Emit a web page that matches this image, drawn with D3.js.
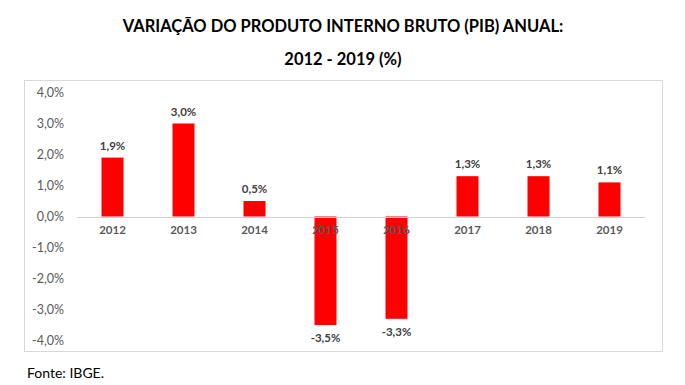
<!DOCTYPE html>
<html>
<head>
<meta charset="utf-8">
<script src="https://cdn.jsdelivr.net/npm/d3@7"></script>
<style>
  body { margin: 0; background: #fff; }
  svg { font-family: Lato, "Open Sans", sans-serif; }
</style>
</head>
<body>
<svg id="chart" width="685" height="385"></svg>
<script>
// data
const years = ["2012", "2013", "2014", "2015", "2016", "2017", "2018", "2019"];
const pib = [1.9, 3.0, 0.5, -3.5, -3.3, 1.3, 1.3, 1.1];
const yTicks = [-4, -3, -2, -1, 0, 1, 2, 3, 4];

const svg = d3.select("#chart");
const fmt = v => d3.format(".1f")(v).replace(".", ",").replace("−", "-") + "%";

// titles
svg.append("text").attr("x", 343).attr("y", 32).attr("text-anchor", "middle")
  .attr("font-size", 16.5).attr("font-weight", "bold").attr("fill", "#000")
  .text("VARIAÇÃO DO PRODUTO INTERNO BRUTO (PIB) ANUAL:");
svg.append("text").attr("x", 343).attr("y", 65).attr("text-anchor", "middle")
  .attr("font-size", 16.5).attr("font-weight", "bold").attr("fill", "#000")
  .text("2012 - 2019 (%)");

// chart frame
svg.append("rect").attr("x", 24.5).attr("y", 80.5).attr("width", 638).attr("height", 271)
  .attr("fill", "none").attr("stroke", "#d9d9d9");

const x = d3.scaleBand().domain(years).range([77, 645]).paddingInner(0.69).paddingOuter(0.345);
const y = d3.scaleLinear().domain([-4, 4]).range([340.5, 92.5]);

// y axis labels
const yAxis = d3.axisLeft(y).tickValues(yTicks).tickFormat(fmt).tickSize(0).tickPadding(0);
const gy = svg.append("g").attr("transform", "translate(64,0)").call(yAxis);
gy.select(".domain").remove();
gy.selectAll("text").attr("font-size", 12.5).attr("fill", "#595959")
  .attr("font-family", "Lato, sans-serif");

// bars
svg.selectAll("rect.bar").data(pib).enter().append("rect").attr("class", "bar")
  .attr("x", (d, i) => x(years[i]))
  .attr("y", d => y(Math.max(0, d)))
  .attr("width", x.bandwidth())
  .attr("height", d => Math.abs(y(d) - y(0)))
  .attr("fill", "#ff0000");

// zero line
svg.append("line").attr("x1", 77).attr("x2", 645)
  .attr("y1", Math.round(y(0)) + 0.5).attr("y2", Math.round(y(0)) + 0.5)
  .attr("stroke", "#d0d0d0");

// category labels
const xAxis = d3.axisBottom(x).tickSize(0).tickPadding(0);
const gx = svg.append("g").attr("transform", "translate(0," + y(0) + ")").call(xAxis);
gx.select(".domain").remove();
gx.selectAll("text").attr("dy", "1.5em").attr("font-size", 11.5).attr("font-weight", "bold")
  .attr("fill", "#595959").attr("font-family", "Lato, sans-serif");

// value labels
svg.selectAll("text.val").data(pib).enter().append("text").attr("class", "val")
  .attr("x", (d, i) => x(years[i]) + x.bandwidth() / 2)
  .attr("y", d => d >= 0 ? y(d) - 8 : y(d) + 17)
  .attr("text-anchor", "middle").attr("font-size", 11.5).attr("font-weight", "bold")
  .attr("fill", "#404040")
  .text(fmt);

// source
svg.append("text").attr("x", 27).attr("y", 378).attr("font-size", 14).attr("fill", "#000")
  .text("Fonte: IBGE.");
</script>
</body>
</html>
